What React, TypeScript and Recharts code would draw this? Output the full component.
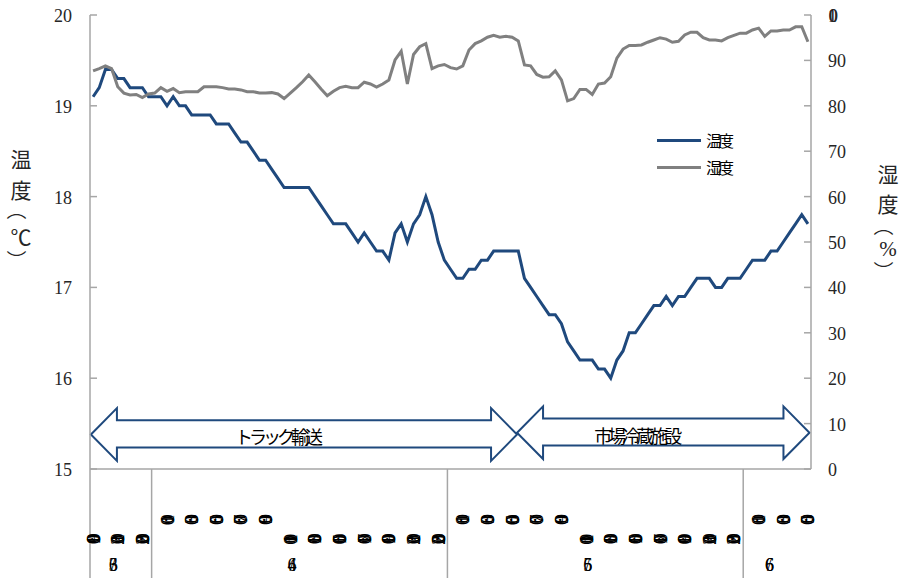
import { LineChart, Line, XAxis, YAxis, ReferenceArea, Legend } from "recharts"

// 30-minute readings, 6/3 19:00 -> 6/6 5:00
const temperature = [
  19.1, 19.2, 19.4, 19.4, 19.3, 19.3, 19.2, 19.2, 19.2, 19.1,
  19.1, 19.1, 19.0, 19.1, 19.0, 19.0, 18.9, 18.9, 18.9, 18.9,
  18.8, 18.8, 18.8, 18.7, 18.6, 18.6, 18.5, 18.4, 18.4, 18.3,
  18.2, 18.1, 18.1, 18.1, 18.1, 18.1, 18.0, 17.9, 17.8, 17.7,
  17.7, 17.7, 17.6, 17.5, 17.6, 17.5, 17.4, 17.4, 17.3, 17.6,
  17.7, 17.5, 17.7, 17.8, 18.0, 17.8, 17.5, 17.3, 17.2, 17.1,
  17.1, 17.2, 17.2, 17.3, 17.3, 17.4, 17.4, 17.4, 17.4, 17.4,
  17.1, 17.0, 16.9, 16.8, 16.7, 16.7, 16.6, 16.4, 16.3, 16.2,
  16.2, 16.2, 16.1, 16.1, 16.0, 16.2, 16.3, 16.5, 16.5, 16.6,
  16.7, 16.8, 16.8, 16.9, 16.8, 16.9, 16.9, 17.0, 17.1, 17.1,
  17.1, 17.0, 17.0, 17.1, 17.1, 17.1, 17.2, 17.3, 17.3, 17.3,
  17.4, 17.4, 17.5, 17.6, 17.7, 17.8, 17.7,
]

const humidity = [
  87.7, 88.2, 88.8, 88.2, 84.2, 82.8, 82.4, 82.5, 81.8, 82.6,
  82.8, 84.0, 83.2, 83.8, 82.9, 83.1, 83.1, 83.1, 84.2, 84.2,
  84.2, 84.0, 83.7, 83.7, 83.5, 83.1, 83.1, 82.8, 82.8, 82.9,
  82.6, 81.6, 82.8, 84.0, 85.3, 86.8, 85.3, 83.7, 82.2, 83.2,
  84.0, 84.3, 84.0, 84.0, 85.2, 84.8, 84.1, 84.8, 85.7, 90.1,
  92.0, 84.8, 91.3, 93.0, 93.7, 88.2, 88.8, 89.1, 88.4, 88.1,
  88.8, 92.3, 93.7, 94.3, 95.1, 95.5, 95.1, 95.3, 95.1, 94.3,
  89.0, 88.8, 86.9, 86.3, 86.4, 87.7, 85.7, 81.1, 81.6, 83.6,
  83.6, 82.5, 84.8, 85.0, 86.4, 90.5, 92.5, 93.3, 93.3, 93.4,
  94.0, 94.5, 95.0, 94.7, 94.0, 94.2, 95.6, 96.2, 96.2, 95.0,
  94.5, 94.5, 94.3, 95.0, 95.5, 96.0, 96.0, 96.7, 97.1, 95.3,
  96.5, 96.5, 96.7, 96.7, 97.4, 97.4, 94.1,
]

// one label every 4 readings (2 hours)
const hourLabels = [
  "19:00", "21:00", "23:00",
  "1:00", "3:00", "5:00", "7:00", "9:00", "11:00", "13:00", "15:00", "17:00", "19:00", "21:00", "23:00",
  "1:00", "3:00", "5:00", "7:00", "9:00", "11:00", "13:00", "15:00", "17:00", "19:00", "21:00", "23:00",
  "1:00", "3:00", "5:00",
]
const dayLabels = ["6/3", "6/4", "6/5", "6/6"]
const dayCenters = [4.5, 33.5, 81.5, 111]
const dayBreaks = [-0.5, 9.5, 57.5, 105.5]

const tempTicks = [15, 16, 17, 18, 19, 20]
const humTicks = [0, 10, 20, 30, 40, 50, 60, 70, 80, 90, 100]

const leftTitle = ["温", "度", "（", "℃", "）"]
const rightTitle = ["湿", "度", "（", "%", "）"]

const phases = [
  { label: "トラック輸送", from: -0.35, to: 68.8, lo: 15.09, hi: 15.67 },
  { label: "市場冷蔵施設", from: 68.8, to: 116.25, lo: 15.11, hi: 15.69 },
]

const data = temperature.map((t, i) => ({ i, temp: t, hum: humidity[i] }))
const hourTicks = hourLabels.map((_, k) => k * 4)

const BLUE = "#1F497D"
const GRAY = "#808080"
const AXIS = "#a6a6a6"
const SERIF = "'Liberation Serif', 'Times New Roman', 'DejaVu Serif', serif"
const CJK = "'Noto Sans CJK JP', sans-serif"

function XTick(props: any) {
  const { x, y, payload } = props
  const v = payload.value
  if (dayBreaks.includes(v)) {
    return <line x1={x} x2={x} y1={y} y2={y + 109} stroke={AXIS} strokeWidth={1.5} />
  }
  const d = dayCenters.indexOf(v)
  if (d >= 0) {
    return (
      <text x={x - 11} y={y + 96} textAnchor="middle" dominantBaseline="central" fill="#000"
        style={{ fontFamily: SERIF, fontSize: 18, letterSpacing: -7 }}>
        {dayLabels[d]}
      </text>
    )
  }
  const label = hourLabels[v / 4]
  if (!label) return null
  const ty = y + (label.length < 5 ? 54 : 74)
  return (
    <text x={x} y={ty} transform={`rotate(-90 ${x} ${ty})`} textAnchor="middle" dominantBaseline="central"
      fill="#000" style={{ fontFamily: SERIF, fontSize: 19, letterSpacing: -8 }}>
      {label}
    </text>
  )
}

function LeftTick(props: any) {
  const { x, y, payload } = props
  return (
    <g>
      <line x1={x} x2={x + 7} y1={y} y2={y} stroke={AXIS} strokeWidth={1.5} />
      <text x={x - 18} y={y} dy={1} textAnchor="end" dominantBaseline="central" fill="#262626"
        style={{ fontFamily: SERIF, fontSize: 18 }}>
        {payload.value}
      </text>
    </g>
  )
}

function RightTick(props: any) {
  const { x, y, payload } = props
  return (
    <g>
      <line x1={x - 7} x2={x} y1={y} y2={y} stroke={AXIS} strokeWidth={1.5} />
      <text x={x + 17} y={y} dy={1} textAnchor="start" dominantBaseline="central" fill="#262626"
        style={{ fontFamily: SERIF, fontSize: 18, letterSpacing: payload.value >= 100 ? -8.5 : 0 }}>
        {payload.value}
      </text>
    </g>
  )
}

function verticalTitle(chars: string[], cx: number, ys: number[]) {
  return (
    <g>
      {chars.map((c, k) => {
        const cy = ys[k]
        const paren = c === "（" || c === "）"
        const latin = c === "%"
        const px = paren ? cx - 4 : cx
        return (
          <text key={k} x={px} y={cy} textAnchor="middle" dominantBaseline="central" fill="#262626"
            style={{ fontFamily: latin ? SERIF : CJK, fontSize: paren ? 20 : 21 }}
            transform={paren ? `rotate(90 ${px} ${cy})` : undefined}>
            {c}
          </text>
        )
      })}
    </g>
  )
}

function Arrow(props: any) {
  const { x, y, width: w, height: h, label } = props
  const head = 26
  const cy = y + h / 2
  const st = y + h * 0.23
  const sb = y + h * 0.745
  const pts = [
    [x, cy], [x + head, y], [x + head, st], [x + w - head, st], [x + w - head, y], [x + w, cy],
    [x + w - head, y + h], [x + w - head, sb], [x + head, sb], [x + head, y + h],
  ].map((p) => p.join(",")).join(" ")
  return (
    <g>
      <polygon points={pts} fill="#fff" stroke={BLUE} strokeWidth={2} strokeLinejoin="miter" />
      <text x={x + w / 2 - 69} y={cy + 2} dominantBaseline="central" fill="#000"
        style={{ fontFamily: CJK, fontSize: 18, letterSpacing: -4 }}>
        {label}
      </text>
    </g>
  )
}

function renderLegend(props: any) {
  const items = props.payload || []
  return (
    <div>
      {items.map((p: any) => (
        <div key={p.value} style={{ display: "flex", alignItems: "center", height: 27 }}>
          <span style={{ display: "inline-block", width: 44, height: 3, background: p.color, marginRight: 5 }} />
          <span style={{ fontFamily: CJK, fontSize: 16, letterSpacing: -4, color: "#000", lineHeight: "27px" }}>
            {p.value}
          </span>
        </div>
      ))}
    </div>
  )
}

export default function App() {
  return (
    <div style={{ position: "absolute", left: 0, top: 0, width: 901, height: 578, background: "#fff" }}>
      <LineChart width={901} height={578} data={data} margin={{ top: 15, right: 0, bottom: 0, left: 0 }}>
        <XAxis
          dataKey="i"
          type="number"
          domain={[-0.5, 116.5]}
          ticks={[...dayBreaks, ...hourTicks, ...dayCenters]}
          interval={0}
          height={109}
          tickSize={0}
          tickMargin={0}
          tickLine={false}
          axisLine={{ stroke: AXIS, strokeWidth: 1.5 }}
          tick={<XTick />}
        />
        <YAxis
          yAxisId="left"
          domain={[15, 20]}
          ticks={tempTicks}
          width={90}
          tickSize={0}
          tickMargin={0}
          tickLine={false}
          axisLine={{ stroke: AXIS, strokeWidth: 1.5 }}
          tick={<LeftTick />}
          label={() => verticalTitle(leftTitle, 21, [158, 189, 210, 236, 260])}
        />
        <YAxis
          yAxisId="right"
          orientation="right"
          domain={[0, 100]}
          ticks={humTicks}
          width={90}
          tickSize={0}
          tickMargin={0}
          tickLine={false}
          axisLine={{ stroke: AXIS, strokeWidth: 1.5 }}
          tick={<RightTick />}
          label={() => verticalTitle(rightTitle, 888, [173, 203, 226, 249, 271])}
        />
        {phases.map((p) => (
          <ReferenceArea
            key={p.label}
            yAxisId="left"
            x1={p.from}
            x2={p.to}
            y1={p.lo}
            y2={p.hi}
            ifOverflow="visible"
            shape={(s: any) => <Arrow {...s} label={p.label} />}
          />
        ))}
        <Legend
          layout="vertical"
          align="center"
          verticalAlign="middle"
          content={renderLegend}
          wrapperStyle={{ left: 657, top: 127, width: 110 }}
        />
        <Line yAxisId="left" dataKey="temp" name="温度" stroke={BLUE} strokeWidth={3} dot={false}
          isAnimationActive={false} />
        <Line yAxisId="right" dataKey="hum" name="湿度" stroke={GRAY} strokeWidth={3} dot={false}
          isAnimationActive={false} />
      </LineChart>
    </div>
  )
}
